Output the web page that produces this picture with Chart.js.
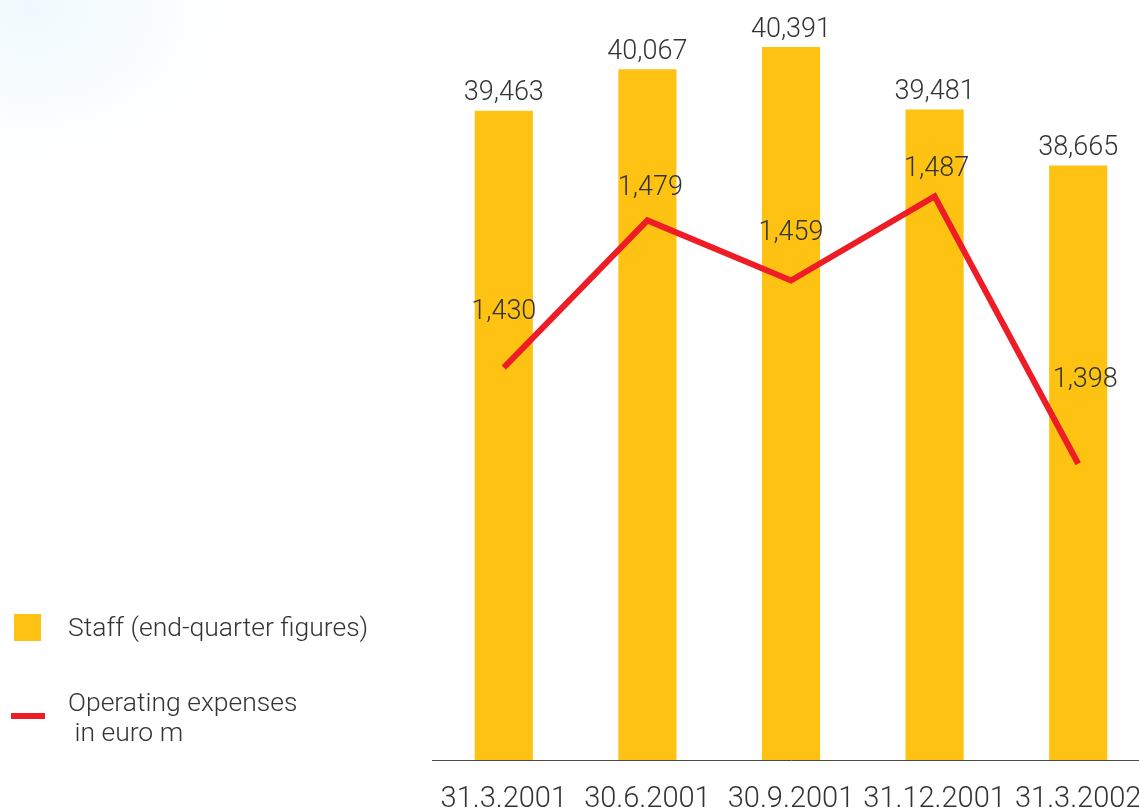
<!DOCTYPE html>
<html lang="en">
<head>
  <meta charset="UTF-8" />
  <title>Staff and operating expenses</title>
  <script src="https://cdn.jsdelivr.net/npm/chart.js"></script>
  <style>
    html {
      margin: 0;
      width: 1139px;
      height: 811px;
      overflow: hidden;
      background: #fff;
    }
    body {
      margin: 0;
      padding: 0;
      width: 1150px;
      height: 811px;
      position: relative;
      background: radial-gradient(ellipse 200px 150px at 30px 10px, rgba(236, 248, 253, 0.8), rgba(255, 255, 255, 0) 100%), #fff;
      font-family: Roboto, "Liberation Sans", sans-serif;
      font-weight: 300;
      color: #333;
    }
    .chart-box {
      position: absolute;
      left: 0;
      top: 0;
      width: 1150px;
      height: 811px;
    }
    #staffChart {
      display: block;
      width: 1150px;
      height: 811px;
    }
    .legend-item {
      position: absolute;
      font-size: 26.5px;
      line-height: 30px;
      white-space: pre;
    }
    .swatch-bar {
      position: absolute;
      left: 14px;
      top: 614px;
      width: 27px;
      height: 27px;
      background: #fdc212;
    }
    .swatch-line {
      position: absolute;
      left: 11px;
      top: 713px;
      width: 34px;
      height: 6px;
      background: #ee1c25;
    }
  </style>
</head>
<body>

  <div class="chart-box">
    <canvas id="staffChart" width="1150" height="811"></canvas>
  </div>

  <!-- Legend -->
  <div class="swatch-bar"></div>
  <div class="legend-item" style="left:68px; top:612px;">Staff (end-quarter figures)</div>
  <div class="swatch-line"></div>
  <div class="legend-item" style="left:68px; top:687px;">Operating expenses
 in euro m</div>

  <script>
    const quarters = ['31.3.2001', '30.6.2001', '30.9.2001', '31.12.2001', '31.3.2002'];
    const staff = [39463, 40067, 40391, 39481, 38665];
    const opExpenses = [1430, 1479, 1459, 1487, 1398];

    // how far each expense label sits above / beside its point
    const expenseLabelLift = [55, 32, 47, 27, 84];
    const expenseLabelShift = [0, 3, 0, 2, 7];

    const fmt = v => v.toLocaleString('en-US');
    const labelFont = '300 27px Roboto, "Liberation Sans", sans-serif';

    // writes the numbers above bars and line points
    const valueLabels = {
      id: 'valueLabels',
      afterDatasetsDraw(chart) {
        const ctx = chart.ctx;
        ctx.save();
        ctx.font = labelFont;
        ctx.fillStyle = '#333';
        ctx.textAlign = 'center';
        ctx.textBaseline = 'middle';
        // dataset 1 = bars, dataset 0 = line
        chart.getDatasetMeta(1).data.forEach((bar, i) => {
          ctx.fillText(fmt(staff[i]), bar.x, bar.y - 17);
        });
        chart.getDatasetMeta(0).data.forEach((pt, i) => {
          ctx.fillText(fmt(opExpenses[i]), pt.x + expenseLabelShift[i], pt.y - expenseLabelLift[i]);
        });
        ctx.restore();
      }
    };

    const ctx = document.getElementById('staffChart').getContext('2d');
    const staffChart = new Chart(ctx, {
      data: {
        labels: quarters,
        datasets: [
          {
            type: 'line',
            label: 'Operating expenses in euro m',
            data: opExpenses,
            yAxisID: 'yExp',
            borderColor: '#ee1c25',
            borderWidth: 6,
            pointRadius: 0,
            tension: 0,
            borderJoinStyle: 'miter',
            order: 0
          },
          {
            type: 'bar',
            label: 'Staff (end-quarter figures)',
            data: staff,
            yAxisID: 'yStaff',
            backgroundColor: '#fdc212',
            barPercentage: 0.405,
            categoryPercentage: 1,
            order: 1
          }
        ]
      },
      options: {
        responsive: false,
        animation: false,
        layout: {
          padding: { left: 432, right: 0, top: 20, bottom: 0 }
        },
        plugins: {
          legend: { display: false },
          tooltip: { enabled: false }
        },
        scales: {
          x: {
            grid: { display: false, drawTicks: false },
            border: { display: true, color: '#4a4a4a', width: 1 },
            ticks: {
              color: '#333',
              padding: 22,
              maxRotation: 0,
              autoSkip: false,
              font: { family: 'Roboto, "Liberation Sans", sans-serif', size: 29, weight: 300 }
            },
            afterFit(scale) {
              // fixed axis band, and no extra side padding for the end labels
              scale.height = 51;
              scale.paddingLeft = 0;
              scale.paddingRight = 0;
            }
          },
          yStaff: {
            position: 'left',
            display: false,
            min: 30000,
            max: 40784
          },
          yExp: {
            position: 'right',
            display: false,
            min: 1299.4,
            max: 1545.7
          }
        }
      },
      plugins: [valueLabels]
    });
  </script>

</body>
</html>
